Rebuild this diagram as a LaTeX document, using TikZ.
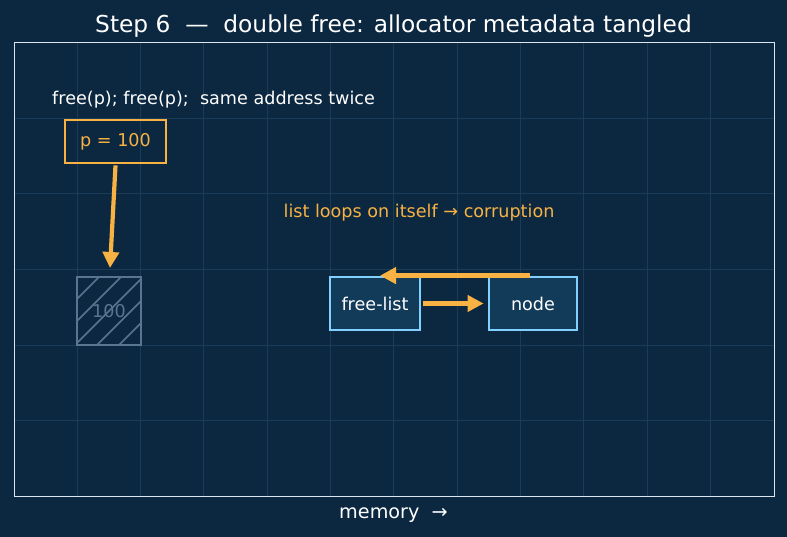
\documentclass[tikz,border=0pt]{standalone}
\usepackage{fontspec}
\setmainfont{DejaVu Sans}
\usetikzlibrary{arrows.meta}
\definecolor{bg}{HTML}{0C2840}
\definecolor{gridc}{HTML}{1B3C58}
\definecolor{framec}{HTML}{DCE6EE}
\definecolor{orange}{HTML}{F8B244}
\definecolor{lblue}{HTML}{82D0FF}
\definecolor{boxfill}{HTML}{123B5A}
\definecolor{hatchc}{HTML}{5A7590}
\tikzset{
  txt/.style={text=white, inner sep=0pt},
  fs/.style={font=\fontsize{17.6}{20}\selectfont},
  ptrbox/.style={draw=orange, line width=2.8pt, minimum width=101pt, minimum height=43pt, text=orange, fs},
  listbox/.style={draw=lblue, fill=boxfill, line width=2.8pt, minimum height=53pt, text=white, fs},
  oarrow/.style={draw=orange, line width=4.2pt, -{Triangle[length=16pt,width=16pt]}},
}
\begin{document}
\begin{tikzpicture}[x=1pt,y=-1pt]
\fill[bg] (0,0) rectangle (787,537);
\useasboundingbox (0,0) rectangle (787,537);
% grid
\foreach \i in {1,...,11} {
  \draw[gridc, line width=1pt] ({14+\i*63.33},43) -- ({14+\i*63.33},496);
}
\foreach \j in {1,...,5} {
  \draw[gridc, line width=1pt] (14,{43+\j*75.5}) -- (774,{43+\j*75.5});
}
\draw[framec, line width=1pt] (14,43) rectangle (774,496);
% title
\node[txt, font=\fontsize{23.3}{26}\selectfont] (title) at (393.5,26) {Step 6\ \ —\ \ double free: allocator metadata tangled};
\node[txt, fs, anchor=west] (cmd) at (52,100) {free(p); free(p);\ \ same address twice};
\node[ptrbox] (p) at (115.5,141.5) {p = 100};
% hatched block
\begin{scope}
\clip (77,277) rectangle (141,345);
\foreach \k in {-88,-66,...,88} {
  \draw[hatchc, line width=1.6pt] ({75+\k},345) -- ({75+\k+68},277);
}
\end{scope}
\node[draw=hatchc, line width=2.6pt, minimum width=64pt, minimum height=68pt, text=hatchc, fs] (blk) at (109,311) {100};
\draw[oarrow] (p.south) ++(0,1) coordinate (ps) -- (110,268) coordinate (bt);
% list nodes
\node[listbox, minimum width=90pt] (fl) at (375,303.5) {free-list};
\node[listbox, minimum width=88pt] (nd) at (533,303.5) {node};
\draw[oarrow] (fl.east) ++(2,0) -- ([xshift=-4pt]nd.west);
\draw[oarrow] ([xshift=-3pt]nd.north) -- ([xshift=5pt]fl.north);
\node[text=orange, fs] (loop) at (419,213) {list loops on itself → corruption};
\node[txt, font=\fontsize{19.2}{22}\selectfont] (mem) at (393.5,515) {memory\ \ →};
\end{tikzpicture}
\end{document}
